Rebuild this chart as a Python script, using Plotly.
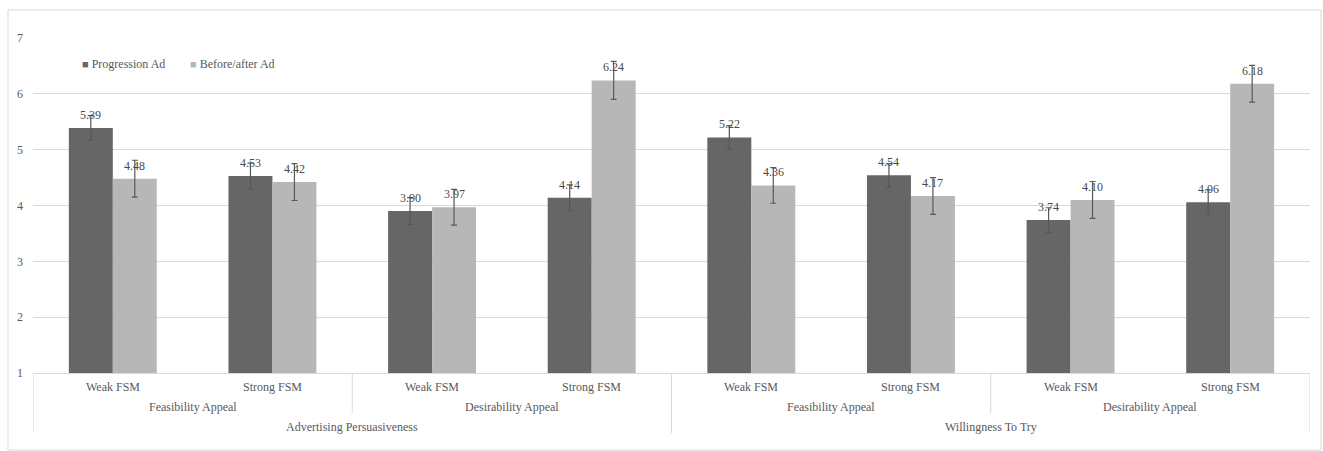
import plotly.graph_objects as go

# Hierarchical category labels (innermost to outermost)
fsm_levels = ["Weak FSM", "Strong FSM", "Weak FSM", "Strong FSM",
              "Weak FSM", "Strong FSM", "Weak FSM", "Strong FSM"]
appeal_levels = ["Feasibility Appeal", "Desirability Appeal",
                 "Feasibility Appeal", "Desirability Appeal"]
outcome_levels = ["Advertising Persuasiveness", "Willingness To Try"]

# Series values and their error margins
progression_name = "Progression Ad"
progression = [5.39, 4.53, 3.90, 4.14, 5.22, 4.54, 3.74, 4.06]
progression_err = [0.22, 0.23, 0.24, 0.23, 0.21, 0.21, 0.22, 0.22]

before_after_name = "Before/after Ad"
before_after = [4.48, 4.42, 3.97, 6.24, 4.36, 4.17, 4.10, 6.18]
before_after_err = [0.33, 0.33, 0.32, 0.34, 0.32, 0.33, 0.33, 0.33]

y_ticks = [1, 2, 3, 4, 5, 6, 7]

DARK = "#666666"
LIGHT = "#b7b7b7"
GRID = "#d9d9d9"
TEXT = "#595959"
LABEL = "#4a4a4a"
FONT = "Liberation Serif"

x_pos = list(range(len(fsm_levels)))

fig = go.Figure()
for name, vals, errs, color, ecolor in [
    (progression_name, progression, progression_err, DARK, "#575757"),
    (before_after_name, before_after, before_after_err, LIGHT, "#595959"),
]:
    fig.add_trace(go.Bar(
        x=x_pos, y=vals, name=name, marker_color=color,
        marker_line_width=0, showlegend=False,
        error_y=dict(type="data", array=errs, color=ecolor,
                     thickness=1.2, width=3),
    ))

# Value labels above each bar
bar_offset = 0.1378
for vals, shift in [(progression, -bar_offset), (before_after, bar_offset)]:
    for i, v in enumerate(vals):
        fig.add_annotation(x=i + shift, y=v, xref="x", yref="y",
                           text=f"{v:.2f}", showarrow=False,
                           yanchor="middle", yshift=13,
                           font=dict(family=FONT, size=12, color=LABEL))

# Legend drawn as coloured squares with the series names
legend_y = (373 - 64) / 335
for name, color, px in [(progression_name, DARK, 80), (before_after_name, LIGHT, 188)]:
    fig.add_annotation(
        x=(px - 33) / 1277, y=legend_y, xref="paper", yref="paper",
        xanchor="left", yanchor="middle", showarrow=False,
        text=f"<span style='color:{color}; font-size:11px'>■</span> {name}",
        font=dict(family=FONT, size=12, color=TEXT),
    )

# Multi-level category axis: labels
n = len(fsm_levels)
y_l1 = (373 - 387) / 335
y_l2 = (373 - 407) / 335
y_l3 = (373 - 427) / 335
for i, lab in enumerate(fsm_levels):
    fig.add_annotation(x=i, y=y_l1, xref="x", yref="paper", text=lab,
                       showarrow=False, yanchor="middle",
                       font=dict(family=FONT, size=12, color=TEXT))
span2 = n // len(appeal_levels)
for j, lab in enumerate(appeal_levels):
    fig.add_annotation(x=j * span2 + (span2 - 1) / 2, y=y_l2, xref="x",
                       yref="paper", text=lab, showarrow=False,
                       yanchor="middle",
                       font=dict(family=FONT, size=12, color=TEXT))
span3 = n // len(outcome_levels)
for k, lab in enumerate(outcome_levels):
    fig.add_annotation(x=k * span3 + (span3 - 1) / 2, y=y_l3, xref="x",
                       yref="paper", text=lab, showarrow=False,
                       yanchor="middle",
                       font=dict(family=FONT, size=12, color=TEXT))

# Multi-level category axis: separators
y_sep2 = (373 - 413) / 335
y_sep3 = (373 - 433) / 335
for b in range(n + 1):
    xb = b - 0.5
    if b % span3 == 0:
        y_end = y_sep3
    elif b % span2 == 0:
        y_end = y_sep2
    else:
        continue
    fig.add_shape(type="line", xref="x", yref="paper", x0=xb, x1=xb,
                  y0=0, y1=y_end, line=dict(color=GRID, width=1))

# Outer chart frame
fig.add_shape(type="rect", xref="paper", yref="paper",
              x0=(8 - 33) / 1277, x1=(1321 - 33) / 1277,
              y0=(373 - 450) / 335, y1=(373 - 10) / 335,
              line=dict(color=GRID, width=1), fillcolor="rgba(0,0,0,0)",
              layer="below")

fig.update_layout(
    width=1323, height=451,
    margin=dict(l=33, r=13, t=38, b=78),
    paper_bgcolor="white", plot_bgcolor="white",
    barmode="group", bargap=0.449, bargroupgap=0,
    font=dict(family=FONT, size=12, color=TEXT),
    xaxis=dict(range=[-0.5, n - 0.5], showticklabels=False,
               showgrid=False, zeroline=False, showline=True,
               linecolor=GRID, linewidth=1, ticks=""),
    yaxis=dict(range=[1, 7], tickvals=y_ticks, showgrid=True,
               gridcolor=GRID, gridwidth=1, zeroline=False,
               showline=False, ticks="", ticklabelstandoff=9,
               tickfont=dict(family=FONT, size=12, color=TEXT)),
)

fig.write_html("out.html")
